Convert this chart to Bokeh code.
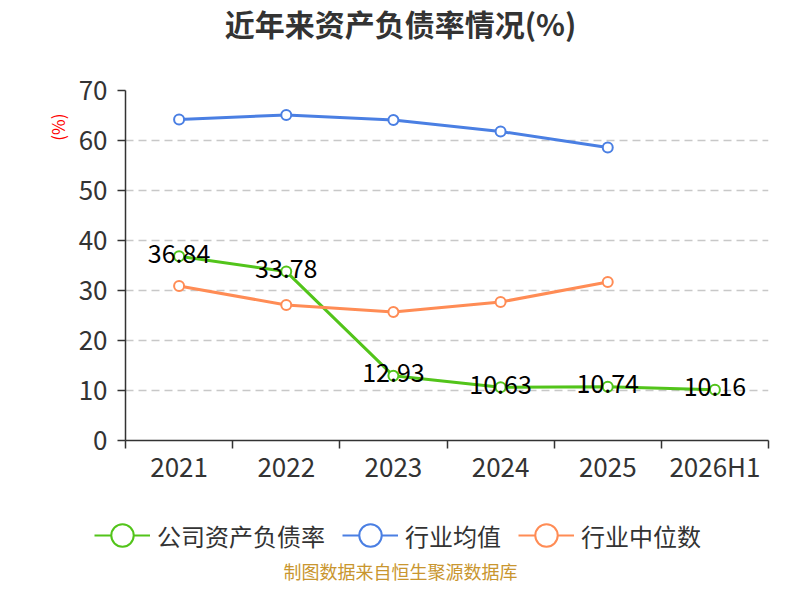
import math
from bokeh.plotting import figure
from bokeh.layouts import column
from bokeh.models import (Range1d, FixedTicker, Label, Legend, LegendItem,
                          ColumnDataSource, Title)
from bokeh.core.properties import value
from bokeh.embed import file_html
from bokeh.resources import INLINE

# ---- data ----
categories = ["2021", "2022", "2023", "2024", "2025", "2026H1"]
company_ratio = [36.84, 33.78, 12.93, 10.63, 10.74, 10.16]
industry_mean = [64.2, 65.1, 64.1, 61.8, 58.6]
industry_median = [30.9, 27.1, 25.7, 27.7, 31.7]
y_ticks = [0, 10, 20, 30, 40, 50, 60, 70]

title_text = "近年来资产负债率情况(%)"
y_unit = "(%)"
series_names = ["公司资产负债率", "行业均值", "行业中位数"]
source_text = "制图数据来自恒生聚源数据库"

GREEN = "#52c41a"
BLUE = "#4a7fe3"
ORANGE = "#ff8c55"
COLORS = [GREEN, BLUE, ORANGE]
CJK = "Noto Sans CJK SC"
W = 784


def blank_fig(h):
    f = figure(width=W, height=h, x_range=Range1d(0, W), y_range=Range1d(0, h),
               x_axis_location=None, y_axis_location=None,
               output_backend="svg", toolbar_location=None,
               min_border=0, min_border_left=0, min_border_right=0,
               min_border_top=0, min_border_bottom=0, frame_align=False)
    f.outline_line_color = None
    f.grid.visible = False
    f.background_fill_color = "white"
    f.border_fill_color = "white"
    return f


# ---- top strip: title ----
top = blank_fig(60)
top.add_layout(Label(x=400, y=38, x_units="screen", y_units="screen", text=title_text,
                     text_font=CJK, text_font_size="30px", text_font_style="bold",
                     text_color="#333333", text_align="center", text_baseline="middle"))

# ---- main chart ----
centers = [i + 0.5 for i in range(len(categories))]

p = figure(width=W, height=430, x_range=Range1d(0, len(categories)),
           y_range=Range1d(y_ticks[0], y_ticks[-1]),
           output_backend="svg", toolbar_location=None,
           min_border_left=125, min_border_right=16,
           min_border_top=30, min_border_bottom=50, frame_align=False)
p.outline_line_color = None
p.background_fill_color = "white"
p.border_fill_color = "white"
p.xgrid.visible = False

p.yaxis.ticker = FixedTicker(ticks=y_ticks)
p.yaxis.axis_line_color = "#333333"
p.yaxis.axis_line_width = 1.5
p.yaxis.major_tick_line_color = "#333333"
p.yaxis.major_tick_line_width = 1.5
p.yaxis.major_tick_out = 8
p.yaxis.major_tick_in = 0
p.yaxis.minor_tick_line_color = None
p.yaxis.major_label_text_font = CJK
p.yaxis.major_label_text_font_size = "26px"
p.yaxis.major_label_text_color = "#333333"
p.yaxis.major_label_standoff = 10

p.ygrid.ticker = FixedTicker(ticks=y_ticks)
p.ygrid.grid_line_color = "#c8c8c8"
p.ygrid.grid_line_dash = "8 5"
p.ygrid.grid_line_width = 1.5

p.xaxis.ticker = FixedTicker(ticks=centers, minor_ticks=list(range(len(categories) + 1)))
p.xaxis.major_label_overrides = {c: cat for c, cat in zip(centers, categories)}
p.xaxis.axis_line_color = "#333333"
p.xaxis.axis_line_width = 1.5
p.xaxis.major_tick_line_color = None
p.xaxis.major_tick_out = 0
p.xaxis.major_tick_in = 0
p.xaxis.minor_tick_line_color = "#333333"
p.xaxis.minor_tick_line_width = 1.5
p.xaxis.minor_tick_out = 8
p.xaxis.minor_tick_in = 0
p.xaxis.major_label_text_font = CJK
p.xaxis.major_label_text_font_size = "26px"
p.xaxis.major_label_text_color = "#333333"
p.xaxis.major_label_standoff = -2

p.add_layout(Title(text=y_unit, align="right", vertical_align="middle", offset=23,
                   text_font=CJK, text_font_size="17px", text_font_style="normal",
                   text_color="#ff0000"), "left")

src_c = ColumnDataSource(dict(x=centers[:len(company_ratio)], y=company_ratio,
                              t=[f"{v:.2f}" for v in company_ratio]))
src_m = ColumnDataSource(dict(x=centers[:len(industry_mean)], y=industry_mean))
src_d = ColumnDataSource(dict(x=centers[:len(industry_median)], y=industry_median))

for src, col in zip([src_c, src_m, src_d], COLORS):
    p.line("x", "y", source=src, line_color=col, line_width=3)
    p.scatter("x", "y", source=src, marker="circle", size=10,
              fill_color="white", line_color=col, line_width=2)

p.text("x", "y", text="t", source=src_c, text_font=value(CJK),
       text_font_size="25px", text_color="#000000",
       text_align="center", text_baseline="middle", y_offset=-3)

# ---- bottom strip: legend and source ----
bottom = blank_fig(94)
items = []
for name, col in zip(series_names, COLORS):
    dummy = ColumnDataSource(dict(x=[float("nan")], y=[float("nan")]))
    l = bottom.line("x", "y", source=dummy, line_color=col, line_width=2)
    s = bottom.scatter("x", "y", source=dummy, marker="circle", size=10,
                       fill_color="white", line_color=col, line_width=2)
    items.append(LegendItem(label=name, renderers=[l, s]))

legend = Legend(items=items, orientation="horizontal", location=(94, 21),
                glyph_width=56, glyph_height=56, label_standoff=7, spacing=17,
                padding=0, margin=0, border_line_color=None,
                background_fill_alpha=0,
                label_text_font=CJK, label_text_font_size="24px",
                label_text_color="#333333")
bottom.add_layout(legend, "center")
bottom.add_layout(Label(x=400, y=14, x_units="screen", y_units="screen", text=source_text,
                        text_font=CJK, text_font_size="18px", text_color="#c9962f",
                        text_align="center", text_baseline="middle"))

layout = column(top, p, bottom, spacing=0)
open("out.html", "w").write(file_html(layout, INLINE))
